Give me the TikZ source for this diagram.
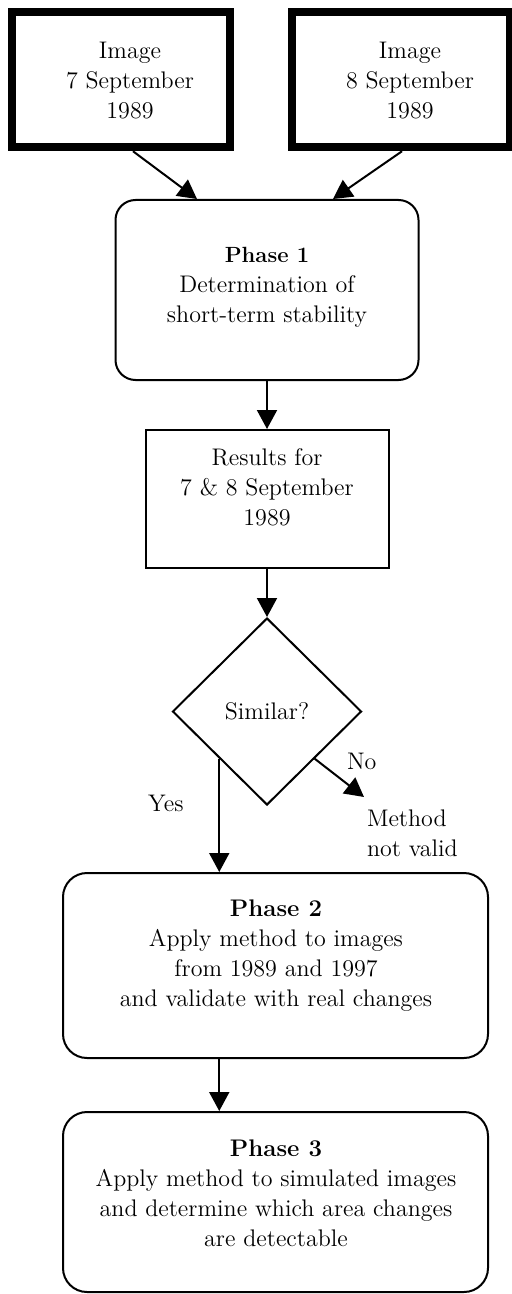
\documentclass[tikz,border=0pt]{standalone}
\usetikzlibrary{arrows.meta,positioning,shapes.geometric}

\begin{document}
\begin{tikzpicture}[
  x=0.5pt, y=-0.5pt, line width=1pt,
  imgbox/.style={draw, line width=4.25pt, minimum width=109pt, minimum height=67.5pt},
  phase/.style={draw, rounded corners=12pt, minimum width=212.5pt},
  result/.style={draw, minimum width=121.5pt, minimum height=69pt},
  decision/.style={draw, diamond, inner sep=0pt, minimum width=94.5pt, minimum height=93.5pt},
  lbl/.style={font=\fontsize{12}{15}\selectfont, align=center},
  >={Triangle[length=9.5pt, width=10pt]}
]
  \useasboundingbox (0,0) rectangle (512,1294);

  % boxes
  \node[imgbox] (img1) at (121,79.5) {};
  \node[imgbox] (img2) at (401,79.5) {};
  \node[phase, rounded corners=10pt, minimum width=151.5pt, minimum height=90pt] (ph1) at (267,290) {};
  \node[result] (res) at (267,499) {};
  \node[decision, lbl] (sim) at (267,711.5) {Similar?};
  \node[phase, minimum height=92.5pt] (ph2) at (275.5,965.5) {};
  \node[phase, minimum height=90pt] (ph3) at (275.5,1202) {};

  % texts
  \node[lbl] (img1txt) at (130,81) {Image\\7 September\\1989};
  \node[lbl] (img2txt) at (410,81) {Image\\8 September\\1989};
  \node[lbl] (ph1txt) at (267,287) {{\fontsize{11}{15}\selectfont\bfseries Phase 1}\\Determination of\\short-term stability};
  \node[lbl] (restxt) at (267,487) {Results for\\7 \& 8 September\\1989};
  \node[lbl] (ph2txt) at (276,956) {{\bfseries Phase 2}\\Apply method to images\\from 1989 and 1997\\and validate with real changes};
  \node[lbl] (ph3txt) at (276,1193) {{\bfseries Phase 3}\\Apply method to simulated images\\and determine which area changes\\are detectable};
  \node[lbl, align=left, anchor=west, inner sep=0pt] (nv) at (366,833) {Method\\not valid};
  \coordinate (noend) at (364,797);

  % connectors
  \draw[->] ([xshift=6pt]img1.south) -- ([xshift=-35pt]ph1.north);
  \draw[->] ([xshift=0.5pt]img2.south) -- ([xshift=33pt]ph1.north);
  \draw[->] (ph1.south) -- (res.north);
  \draw[->] (res.south) -- (sim.north);
  \draw[->] (sim.south west) -- node[lbl, pos=0.39, left=14pt] (yes) {Yes} (sim.south west |- ph2.north);
  \draw[->] (sim.south east) -- node[lbl, above right] (no) {No} (noend);
  \draw[->] (sim.south west |- ph2.south) -- (sim.south west |- ph3.north);
\end{tikzpicture}
\end{document}
